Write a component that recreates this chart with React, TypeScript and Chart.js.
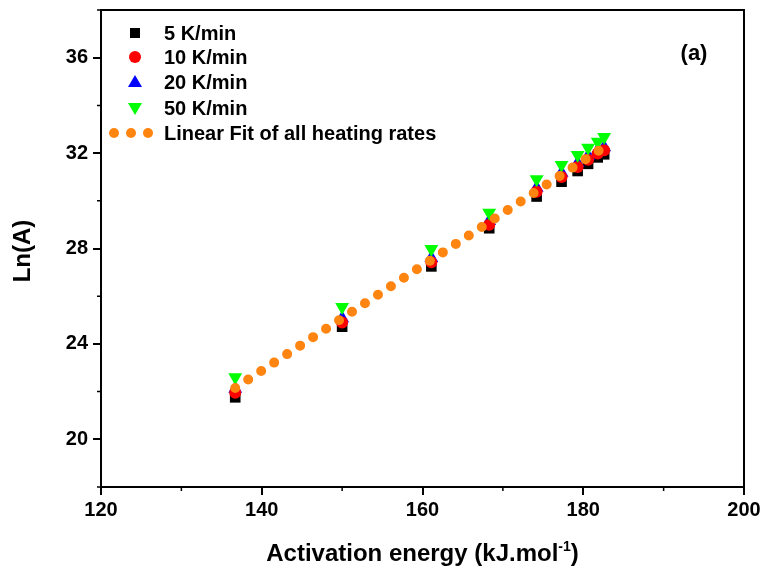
import React, { useEffect, useRef } from "react";
import { Chart, registerables } from "chart.js";

Chart.register(...registerables);

// Activation energy (kJ/mol) for each conversion level
const energy = [136.7, 150.0, 161.1, 168.3, 174.2, 177.3, 179.3, 180.6, 181.8, 182.6];
// Ln(A) per heating rate
const lnA5 = [21.76, 24.72, 27.25, 28.85, 30.18, 30.8, 31.25, 31.55, 31.82, 31.95];
const lnA10 = [21.95, 24.9, 27.42, 29.0, 30.38, 31.0, 31.42, 31.72, 31.98, 32.12];
const lnA20 = [22.12, 25.08, 27.6, 29.15, 30.55, 31.18, 31.58, 31.88, 32.12, 32.25];
const lnA50 = [22.6, 25.55, 27.98, 29.5, 30.9, 31.5, 31.92, 32.22, 32.48, 32.68];
// Linear fit endpoints
const fitX = [136.7, 182.8];
const fitY = [22.15, 32.3];

const seriesLabels = ["5 K/min", "10 K/min", "20 K/min", "50 K/min", "Linear Fit of all heating rates"];
const xTicks = [120, 140, 160, 180, 200];
const yTicks = [20, 24, 28, 32, 36];
const xMinor = [130, 150, 170, 190];
const yMinor = [18, 22, 26, 30, 34, 38];

const FONT = "'Liberation Sans', Arial, Helvetica, sans-serif";
const ORANGE = "#FF8410";

const pts = (xs: number[], ys: number[]) => xs.map((x, i) => ({ x, y: ys[i] }));

const decorPlugin = {
  id: "decor",
  afterDraw(chart: any) {
    const { ctx, chartArea: a, scales } = chart;
    const xs = scales.x;
    const ys = scales.y;
    ctx.save();
    // frame
    ctx.strokeStyle = "#000";
    ctx.lineWidth = 2;
    ctx.strokeRect(a.left, a.top, a.right - a.left, a.bottom - a.top);
    // minor ticks
    ctx.lineWidth = 1.5;
    ctx.beginPath();
    xMinor.forEach((v) => {
      const px = xs.getPixelForValue(v);
      ctx.moveTo(px, a.bottom);
      ctx.lineTo(px, a.bottom + 4);
    });
    yMinor.forEach((v) => {
      const py = ys.getPixelForValue(v);
      ctx.moveTo(a.left, py);
      ctx.lineTo(a.left - 4, py);
    });
    ctx.stroke();

    // axis titles
    ctx.fillStyle = "#000";
    const mainFont = `bold 24px ${FONT}`;
    const supFont = `bold 14px ${FONT}`;
    const t1 = "Activation energy (kJ.mol";
    const t3 = ")";
    ctx.font = mainFont;
    const w1 = ctx.measureText(t1).width;
    const w3 = ctx.measureText(t3).width;
    ctx.font = supFont;
    const w2 = ctx.measureText("-1").width;
    const total = w1 + w2 + w3;
    const cx = (a.left + a.right) / 2;
    const x0 = cx - total / 2;
    const base = 561;
    ctx.textBaseline = "alphabetic";
    ctx.textAlign = "left";
    ctx.font = mainFont;
    ctx.fillText(t1, x0, base);
    ctx.font = supFont;
    ctx.fillText("-1", x0 + w1, base - 10);
    ctx.font = mainFont;
    ctx.fillText(t3, x0 + w1 + w2, base);

    ctx.save();
    ctx.translate(23, 251);
    ctx.rotate(-Math.PI / 2);
    ctx.textAlign = "center";
    ctx.textBaseline = "middle";
    ctx.font = `bold 24px ${FONT}`;
    ctx.fillText("Ln(A)", 0, 0);
    ctx.restore();

    // panel label
    ctx.font = `bold 22px ${FONT}`;
    ctx.textAlign = "center";
    ctx.textBaseline = "middle";
    ctx.fillText("(a)", 694, 54);

    // legend
    const mx = 135;
    const rowsY = [33, 57, 82, 108, 133];
    ctx.fillStyle = "#000";
    ctx.fillRect(mx - 5, rowsY[0] - 5, 10, 10);
    ctx.fillStyle = "#FF0000";
    ctx.beginPath();
    ctx.arc(mx, rowsY[1], 6, 0, Math.PI * 2);
    ctx.fill();
    ctx.fillStyle = "#0000FF";
    ctx.beginPath();
    ctx.moveTo(mx, rowsY[2] - 7);
    ctx.lineTo(mx + 7, rowsY[2] + 5);
    ctx.lineTo(mx - 7, rowsY[2] + 5);
    ctx.closePath();
    ctx.fill();
    ctx.fillStyle = "#00FF00";
    ctx.beginPath();
    ctx.moveTo(mx, rowsY[3] + 7);
    ctx.lineTo(mx + 7, rowsY[3] - 5);
    ctx.lineTo(mx - 7, rowsY[3] - 5);
    ctx.closePath();
    ctx.fill();
    ctx.fillStyle = ORANGE;
    [114, 131, 148].forEach((dx) => {
      ctx.beginPath();
      ctx.arc(dx, rowsY[4], 5, 0, Math.PI * 2);
      ctx.fill();
    });
    ctx.fillStyle = "#000";
    ctx.font = `bold 20px ${FONT}`;
    ctx.textAlign = "left";
    ctx.textBaseline = "middle";
    seriesLabels.forEach((l, i) => ctx.fillText(l, 164, rowsY[i] + 1));
    ctx.restore();
  },
};

export default function App() {
  const ref = useRef<HTMLCanvasElement | null>(null);
  useEffect(() => {
    if (!ref.current) return;
    const common = { showLine: false, pointBorderWidth: 0, borderWidth: 0 };
    const chart = new Chart(ref.current, {
      type: "scatter",
      data: {
        datasets: [
          {
            label: seriesLabels[4],
            data: pts(fitX, fitY),
            showLine: true,
            borderColor: ORANGE,
            borderWidth: 10,
            borderDash: [0, 15.5],
            borderCapStyle: "round",
            pointRadius: 0,
            order: 0,
          } as any,
          { label: seriesLabels[3], data: pts(energy, lnA50), pointStyle: "triangle", rotation: 180, pointRadius: 8, backgroundColor: "#00FF00", borderColor: "#00FF00", order: 1, ...common } as any,
          { label: seriesLabels[1], data: pts(energy, lnA10), pointStyle: "circle", pointRadius: 6, backgroundColor: "#FF0000", borderColor: "#FF0000", order: 2, ...common } as any,
          { label: seriesLabels[2], data: pts(energy, lnA20), pointStyle: "triangle", pointRadius: 8, backgroundColor: "#0000FF", borderColor: "#0000FF", order: 3, ...common } as any,
          { label: seriesLabels[0], data: pts(energy, lnA5), pointStyle: "rect", pointRadius: 7.5, backgroundColor: "#000000", borderColor: "#000000", order: 4, ...common } as any,
        ],
      },
      options: {
        animation: false,
        responsive: true,
        maintainAspectRatio: false,
        layout: { padding: { top: 10, right: 20, left: 0, bottom: 0 } },
        plugins: { legend: { display: false }, tooltip: { enabled: false } },
        scales: {
          x: {
            type: "linear",
            min: 120,
            max: 200,
            afterBuildTicks: (s: any) => {
              s.ticks = xTicks.map((v) => ({ value: v }));
            },
            afterFit: (s: any) => {
              s.height = 87;
            },
            border: { display: false },
            grid: { display: true, drawOnChartArea: false, drawTicks: true, tickLength: 8, color: "#000", lineWidth: 2 },
            ticks: { color: "#000", padding: 3, font: { family: FONT, size: 20, weight: "bold" }, maxRotation: 0 },
          },
          y: {
            type: "linear",
            min: 18,
            max: 38,
            afterBuildTicks: (s: any) => {
              s.ticks = yTicks.map((v) => ({ value: v }));
            },
            afterFit: (s: any) => {
              s.width = 101;
              s.paddingTop = 0;
              s.paddingBottom = 0;
            },
            border: { display: false },
            grid: { display: true, drawOnChartArea: false, drawTicks: true, tickLength: 8, color: "#000", lineWidth: 2 },
            ticks: { color: "#000", padding: 5, font: { family: FONT, size: 20, weight: "bold" } },
          },
        },
      } as any,
      plugins: [decorPlugin],
    });
    return () => chart.destroy();
  }, []);
  return (
    <div style={{ position: "fixed", left: 0, top: 0, width: 764, height: 574, background: "#fff" }}>
      <canvas ref={ref} />
    </div>
  );
}
